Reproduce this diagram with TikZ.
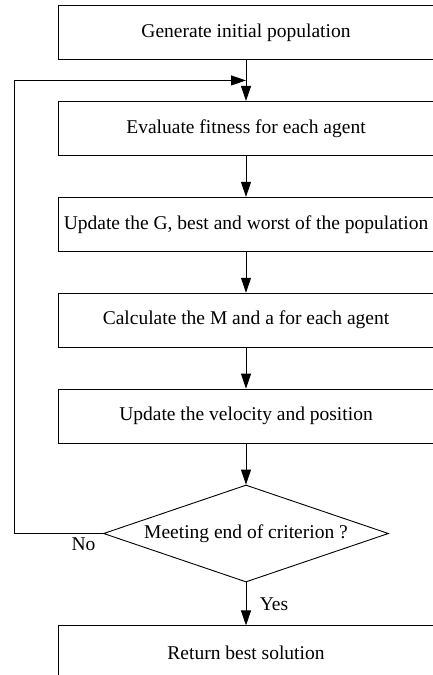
\documentclass[tikz,border=0pt]{standalone}
\usepackage{fontspec}
\setmainfont{Liberation Serif}
\usepackage{tikz}
\usetikzlibrary{shapes.geometric, arrows.meta, positioning, calc}
\tikzset{
  process/.style={rectangle, minimum width=375pt, minimum height=54pt, inner sep=0pt, text centered, draw=black, line width=0.9pt, font=\fontsize{19.5}{22}\selectfont},
  decision/.style={diamond, aspect=2.9, minimum width=285pt, minimum height=97pt, inner sep=0pt, text centered, draw=black, line width=0.9pt, font=\fontsize{19.5}{22}\selectfont},
  arrow/.style={line width=0.9pt,-{Triangle[length=15pt,width=10pt]}},
  lbl/.style={font=\fontsize{19.5}{22}\selectfont}
}
\begin{document}
\begin{tikzpicture}[x=1pt, y=1pt, node distance=41pt]
\useasboundingbox (0,0) rectangle (432,-675);

% Main steps
\node (init) [process] at (246,-32.5) {Generate initial population};
\node (fitness) [process, below=of init] {Evaluate fitness for each agent};
\node (update) [process, below=of fitness] {Update the G, best and worst of the population};
\node (mass) [process, below=of update] {Calculate the M and a for each agent};
\node (move) [process, below=of mass] {Update the velocity and position};
\node (check) [decision, below=of move] {Meeting end of criterion ?};
\node (result) [process, below=43pt of check] {Return best solution};

% Loop points
\coordinate (join) at ($(init.south)!0.5!(fitness.north)$);
\coordinate (back) at ($(check.west)+(-89,0)$);

% Arrows
\draw [arrow] (init) -- (fitness);
\draw [arrow] (fitness) -- (update);
\draw [arrow] (update) -- (mass);
\draw [arrow] (mass) -- (move);
\draw [arrow] (move) -- (check);
\draw [arrow] (check) -- node[lbl, right=10pt] {Yes} (result);
\draw [arrow] (check.west) -- node[lbl, below, pos=0.22] {No} (back) |- (join);

\end{tikzpicture}
\end{document}
